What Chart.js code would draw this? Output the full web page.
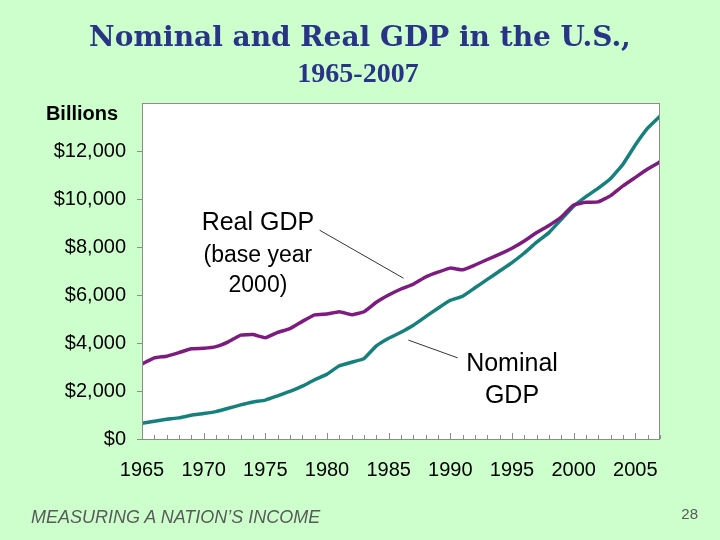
<!DOCTYPE html>
<html>
<head>
<meta charset="utf-8">
<script src="https://cdn.jsdelivr.net/npm/chart.js@4.4.1/dist/chart.umd.min.js"></script>
<style>
  html, body { margin: 0; padding: 0; background: #ccffcc; }
  #wrap { position: relative; width: 720px; height: 540px; overflow: hidden; }
  #c { position: absolute; left: 0; top: 0; }
  .txt { position: absolute; white-space: nowrap; }
  #title { left: 0; width: 720px; top: 20px; line-height: 34px; text-align: center;
           font: bold 28px "DejaVu Serif", serif; color: #2a3487; }
  #sub { left: 0; width: 716px; top: 57px; line-height: 32px; text-align: center;
         font: bold 28px "Liberation Serif", serif; color: #2a3487; }
  #units { left: 32px; width: 100px; top: 102px; line-height: 22px; text-align: center;
           font: bold 20px "Liberation Sans", Arial, sans-serif; color: #000; }
  #foot { left: 31px; top: 507px; line-height: 22px;
          font: italic 18px "Liberation Sans", Arial, sans-serif; color: #5a5a5a; }
  #page { right: 22px; top: 505px; line-height: 20px;
          font: 15px "Liberation Sans", Arial, sans-serif; color: #5a5a5a; }
</style>
</head>
<body>
<div id="wrap">
  <canvas id="c" width="720" height="540"></canvas>
  <div class="txt" id="title">Nominal and Real GDP in the U.S.,</div>
  <div class="txt" id="sub">1965-2007</div>
  <div class="txt" id="units">Billions</div>
  <div class="txt" id="foot">MEASURING A NATION’S INCOME</div>
  <div class="txt" id="page">28</div>
</div>

<script>
  // values, billions of dollars
  const years = [1965, 1966, 1967, 1968, 1969, 1970, 1971, 1972, 1973, 1974,
                 1975, 1976, 1977, 1978, 1979, 1980, 1981, 1982, 1983, 1984,
                 1985, 1986, 1987, 1988, 1989, 1990, 1991, 1992, 1993, 1994,
                 1995, 1996, 1997, 1998, 1999, 2000, 2001, 2002, 2003, 2004,
                 2005, 2006, 2007];

  const realGDP = [3125, 3380, 3450, 3600, 3760, 3780, 3850, 4050, 4330, 4350,
                   4220, 4440, 4600, 4900, 5170, 5210, 5305, 5180, 5300, 5700,
                   6000, 6250, 6450, 6750, 6950, 7120, 7050, 7250, 7480, 7700,
                   7950, 8250, 8600, 8900, 9250, 9750, 9860, 9880, 10140, 10550,
                   10900, 11250, 11550];

  const nominalGDP = [650, 740, 820, 880, 990, 1060, 1140, 1280, 1420, 1540,
                      1620, 1800, 1980, 2200, 2470, 2700, 3050, 3200, 3350, 3880,
                      4200, 4450, 4740, 5100, 5450, 5780, 5950, 6300, 6650, 7000,
                      7350, 7750, 8200, 8600, 9150, 9700, 10100, 10450, 10850, 11450,
                      12250, 12950, 13450];

  const yTicks = [0, 2000, 4000, 6000, 8000, 10000, 12000];
  const xTickYears = [1965, 1970, 1975, 1980, 1985, 1990, 1995, 2000, 2005];

  // callout text and leader lines, in data units (year, billions)
  const calloutText = [
    { text: 'Real GDP',   x: 1974.4, y: 8980, size: 25 },
    { text: '(base year', x: 1974.4, y: 7620, size: 23 },
    { text: '2000)',      x: 1974.4, y: 6400, size: 23 },
    { text: 'Nominal',    x: 1995.0, y: 3130, size: 25 },
    { text: 'GDP',        x: 1995.0, y: 1800, size: 25 }
  ];
  const calloutLines = [
    [1979.4, 8700, 1986.2, 6700],
    [1986.6, 4120, 1990.6, 3380]
  ];

  const toPoints = (vals) => vals.map((v, i) => ({ x: years[i], y: v }));

  const slidePlugin = {
    id: 'slide',
    beforeDraw(chart) {
      const { ctx, chartArea: a } = chart;
      ctx.save();
      ctx.fillStyle = '#ffffff';
      ctx.fillRect(a.left, a.top, a.right - a.left, a.bottom - a.top);
      ctx.restore();
    },
    afterDatasetsDraw(chart) {
      const { ctx, chartArea: a, scales } = chart;
      const sx = scales.x, sy = scales.y;
      ctx.save();
      // frame
      ctx.strokeStyle = '#8c8c8c';
      ctx.lineWidth = 1;
      ctx.strokeRect(a.left + 0.5, a.top + 0.5, a.right - a.left - 1, a.bottom - a.top);
      // yearly ticks along the bottom, pointing up
      ctx.beginPath();
      for (let yr = 1965; yr <= 2007; yr++) {
        const px = Math.round(sx.getPixelForValue(yr)) + 0.5;
        const len = (yr % 5 === 0) ? 6 : 4;
        ctx.moveTo(px, a.bottom);
        ctx.lineTo(px, a.bottom - len);
      }
      ctx.stroke();
      // leader lines
      ctx.strokeStyle = '#000';
      ctx.lineWidth = 0.8;
      calloutLines.forEach(l => {
        ctx.beginPath();
        ctx.moveTo(sx.getPixelForValue(l[0]), sy.getPixelForValue(l[1]));
        ctx.lineTo(sx.getPixelForValue(l[2]), sy.getPixelForValue(l[3]));
        ctx.stroke();
      });
      // callout text
      ctx.fillStyle = '#000';
      ctx.textAlign = 'center';
      ctx.textBaseline = 'middle';
      calloutText.forEach(t => {
        ctx.font = t.size + 'px "Liberation Sans", Arial, sans-serif';
        ctx.fillText(t.text, sx.getPixelForValue(t.x), sy.getPixelForValue(t.y));
      });
      ctx.restore();
    }
  };

  const config = {
    type: 'line',
    data: {
      datasets: [
        {
          label: 'Real GDP (base year 2000)',
          data: toPoints(realGDP),
          borderColor: '#7d1b7e',
          borderWidth: 3.5,
          pointRadius: 0,
          tension: 0.1
        },
        {
          label: 'Nominal GDP',
          data: toPoints(nominalGDP),
          borderColor: '#16807d',
          borderWidth: 3.5,
          pointRadius: 0,
          tension: 0.1
        }
      ]
    },
    options: {
      responsive: false,
      animation: false,
      layout: { padding: { top: 103, right: 60, bottom: 0, left: 0 } },
      plugins: {
        legend: { display: false },
        tooltip: { enabled: false }
      },
      scales: {
        x: {
          type: 'linear',
          min: 1965,
          max: 2007,
          afterFit(scale) { scale.height = 101; },
          afterBuildTicks(scale) { scale.ticks = xTickYears.map(v => ({ value: v })); },
          grid: { display: false },
          border: { display: false },
          ticks: {
            padding: 11,
            color: '#000',
            font: { family: '"Liberation Sans", Arial, sans-serif', size: 20 },
            callback: (v) => String(v)
          }
        },
        y: {
          min: 0,
          max: 14000,
          afterFit(scale) { scale.width = 142; },
          afterBuildTicks(scale) { scale.ticks = yTicks.map(v => ({ value: v })); },
          grid: { drawOnChartArea: false, drawTicks: true, tickLength: 5, color: '#8c8c8c' },
          border: { display: false },
          ticks: {
            padding: 11,
            color: '#000',
            font: { family: '"Liberation Sans", Arial, sans-serif', size: 20 },
            callback: (v) => '$' + v.toLocaleString('en-US')
          }
        }
      }
    },
    plugins: [slidePlugin]
  };

  const gdpChart = new Chart(document.getElementById('c'), config);
</script>
</body>
</html>
